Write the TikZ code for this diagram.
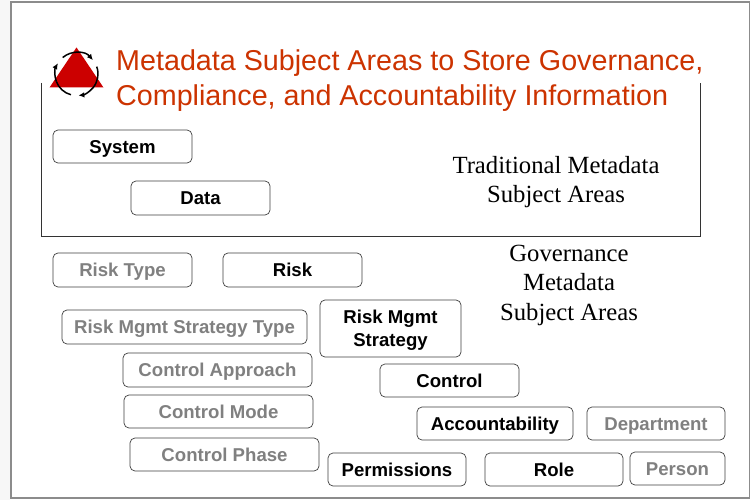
\documentclass[tikz,border=0pt]{standalone}
\usepackage{fontspec}
\setmainfont{Liberation Sans}
\newfontfamily\serifface{Liberation Serif}
\usetikzlibrary{arrows.meta}
\definecolor{titlered}{RGB}{204,51,0}
\definecolor{triangred}{RGB}{204,0,0}
\definecolor{framegray}{RGB}{140,140,140}
\definecolor{dimtext}{RGB}{128,128,128}
\tikzset{
  x=1pt,y=-1pt,
  boxbase/.style={draw=black!75,line width=0.7pt,rounded corners=5pt,fill=white,align=center,inner sep=0pt,font=\fontsize{18.6}{22.5}\selectfont\bfseries},
  mainbox/.style={boxbase,text=black},
  dimbox/.style={boxbase,text=dimtext},
  titletext/.style={anchor=west,text=titlered,font=\fontsize{28.7}{35}\selectfont,inner sep=0pt,align=left},
  notetext/.style={align=center,inner sep=0pt,font=\serifface\fontsize{24.7}{29.5}\selectfont},
  cyclearc/.style={line width=1.5pt,-{Latex[length=6pt,width=5.5pt]}}
}
\newcommand{\bx}[7]{\node[#1,minimum width=#5pt-#3pt,minimum height=#6pt-#4pt] (#2) at ({(#3+#5)/2},{(#4+#6)/2}) {\raisebox{-2pt}[\height][\depth]{\begin{tabular}{@{}c@{}}#7\end{tabular}}};}
\begin{document}
\begin{tikzpicture}
\useasboundingbox (0,0) rectangle (751,500);
\fill[white] (0,0) rectangle (751,500);
\fill[black!3] (0,0) rectangle (10,500);
\draw[framegray,line width=1.6pt,fill=white] (10.8,2) rectangle (749.5,498);
% inner box (no top edge)
\draw[black!80,line width=0.8pt] (41.5,83) -- (41.5,236.5) -- (700.5,236.5) -- (700.5,83);
% logo
\fill[triangred] (76.5,47.5) -- (103.5,87.5) -- (49.5,87.5) -- cycle;
\begin{scope}[shift={(76.5,74)},x=1pt,y=1pt]
  \draw[cyclearc] (200:21.5) arc[start angle=200,end angle=150,radius=21.5];
  \draw[cyclearc] (130:21.5) arc[start angle=130,end angle=40,radius=21.5];
  \draw[cyclearc] (20:21.5) arc[start angle=20,end angle=-85,radius=21.5];
  \draw[line width=1.5pt] (-105:21.5) arc[start angle=-105,end angle=-160,radius=21.5];
\end{scope}
% title
\node[titletext] (title) at (116,80.5) {Metadata Subject Areas to Store Governance,\\Compliance, and Accountability Information};
% notes
\node[notetext] (trad) at (556,182) {Traditional Metadata\\Subject Areas};
\node[notetext] (gov) at (569,285) {Governance\\Metadata\\Subject Areas};
% boxes
\bx{mainbox}{system}{53}{130}{192}{163}{System}
\bx{mainbox}{data}{131}{181}{270}{215}{Data}
\bx{dimbox}{risktype}{53}{253}{192}{287}{Risk Type}
\bx{mainbox}{risk}{223}{253}{362}{287}{Risk}
\bx{dimbox}{rmst}{62}{310}{307}{344}{Risk Mgmt Strategy Type}
\bx{mainbox}{rms}{320}{300}{461}{357}{Risk Mgmt\\Strategy}
\bx{dimbox}{capproach}{123}{353}{312}{387}{Control Approach}
\bx{mainbox}{control}{380}{364}{519}{397}{Control}
\bx{dimbox}{cmode}{124}{395}{313}{428}{Control Mode}
\bx{mainbox}{account}{417}{407}{573}{440}{Accountability}
\bx{dimbox}{dept}{587}{407}{725}{440}{Department}
\bx{dimbox}{cphase}{130}{438}{319}{471}{Control Phase}
\bx{mainbox}{perm}{328}{453}{466}{486}{Permissions}
\bx{mainbox}{role}{485}{453}{623}{486}{Role}
\bx{dimbox}{person}{630}{452}{725}{485}{Person}
\end{tikzpicture}
\end{document}
